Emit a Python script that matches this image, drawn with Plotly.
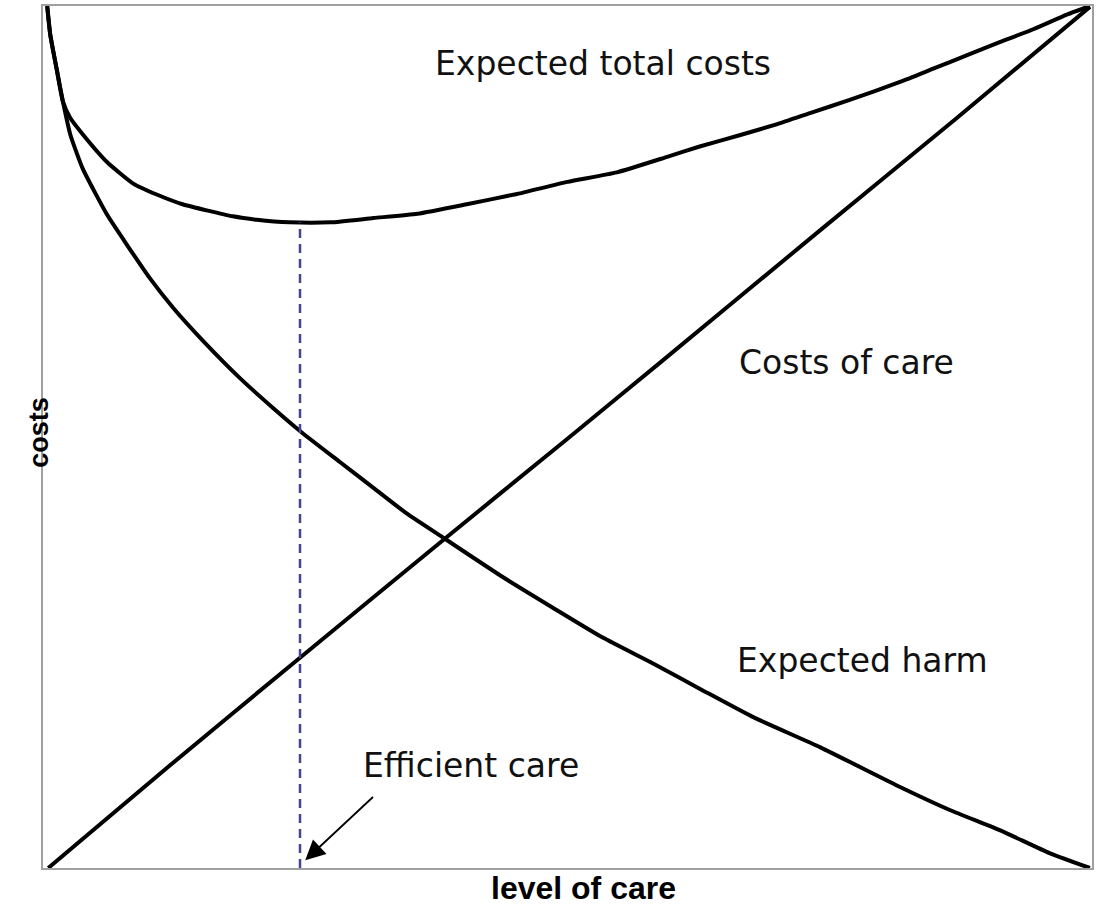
import plotly.graph_objects as go

# level of care (x) and costs (y), both on a 0-100 scale
harm_x = [0.4, 0.7, 1.3, 1.9, 2.6, 3.8, 6.1, 8.0, 10.2, 12.4, 15.3, 18.8, 21.9, 24.7, 28.3,
          31.5, 34.7, 38.3, 43.9, 48.6, 53.4, 58.2, 62.9, 67.7, 74.1, 81.7, 86.5, 91.2, 96.0, 99.8]
harm_y = [100.0, 96.6, 92.7, 88.9, 85.1, 81.1, 75.8, 72.3, 68.4, 65.0, 61.1, 56.8, 53.4, 50.5, 47.1,
          44.1, 41.1, 38.2, 33.7, 30.2, 26.7, 23.7, 20.6, 17.5, 14.0, 9.4, 6.7, 4.4, 1.7, 0.0]

care_x = [0.5, 12.0, 24.5, 38.3, 50.0, 58.8, 74.1, 87.0, 99.8]
care_y = [0.0, 11.8, 24.4, 38.2, 49.8, 58.6, 74.0, 86.9, 99.9]

total_x = [0.4, 0.7, 1.3, 1.9, 2.6, 3.8, 6.1, 8.6, 10.9, 13.3, 18.1, 20.4, 23.5, 27.4, 31.5, 35.7,
           40.4, 45.2, 50.0, 54.7, 59.5, 62.6, 66.4, 70.0, 73.4, 76.9, 81.7, 84.8, 88.1, 91.2,
           94.4, 97.6, 99.8]
total_y = [100.0, 96.6, 92.7, 88.9, 87.0, 85.1, 81.9, 79.4, 78.1, 77.0, 75.6, 75.2, 74.9, 74.9,
           75.4, 75.9, 77.0, 78.2, 79.6, 80.7, 82.5, 83.7, 85.0, 86.3, 87.7, 89.1, 91.2, 92.7,
           94.3, 95.8, 97.3, 99.0, 100.0]

efficient_x = 24.5
efficient_min_cost = 74.9

labels = ["Expected total costs", "Costs of care", "Expected harm", "Efficient care"]
label_x = [53.4, 76.6, 78.1, 40.8]
label_y = [93.3, 58.6, 24.1, 11.9]

arrow_start = (31.6, 8.4)
arrow_end = (25.0, 0.9)

fig = go.Figure()
line_style = dict(color="black", width=4)
for xs, ys in [(total_x, total_y), (care_x, care_y), (harm_x, harm_y)]:
    fig.add_trace(go.Scatter(x=xs, y=ys, mode="lines", line=dict(line_style, shape="spline", smoothing=0.5),
                             hoverinfo="skip", showlegend=False))

fig.add_trace(go.Scatter(x=[efficient_x, efficient_x], y=[0, efficient_min_cost], mode="lines",
                         line=dict(color="#45458f", width=2.5, dash="9px,6px"),
                         hoverinfo="skip", showlegend=False))

for t, x, y in zip(labels, label_x, label_y):
    fig.add_annotation(x=x, y=y, text=t, showarrow=False,
                       font=dict(family="DejaVu Sans", size=33, color="#111111"))

fig.add_annotation(x=arrow_end[0], y=arrow_end[1], ax=arrow_start[0], ay=arrow_start[1],
                   xref="x", yref="y", axref="x", ayref="y", text="",
                   showarrow=True, arrowhead=2, arrowsize=2.2, arrowwidth=1.8, arrowcolor="black")

fig.add_annotation(x=-0.02, y=0.505, xref="paper", yref="paper", text="<b>costs</b>",
                   textangle=-90, showarrow=False,
                   font=dict(family="Liberation Sans", size=27, color="black"))
fig.add_annotation(x=0.515, y=-0.023, xref="paper", yref="paper", text="<b>level of care</b>",
                   showarrow=False, yanchor="middle",
                   font=dict(family="Liberation Sans", size=32, color="black"))

axis_common = dict(range=[0, 100], showgrid=False, zeroline=False, showticklabels=False,
                   ticks="", showline=True, linecolor="#a0a0a0", linewidth=2, mirror=True)
fig.update_layout(
    width=1100, height=907,
    margin=dict(l=43, r=8, t=4, b=39),
    plot_bgcolor="white", paper_bgcolor="white",
    xaxis=axis_common, yaxis=axis_common,
)

fig.write_html("out.html", config={"displayModeBar": False},
               post_script="document.body.style.margin='0';document.body.style.overflow='hidden';")
